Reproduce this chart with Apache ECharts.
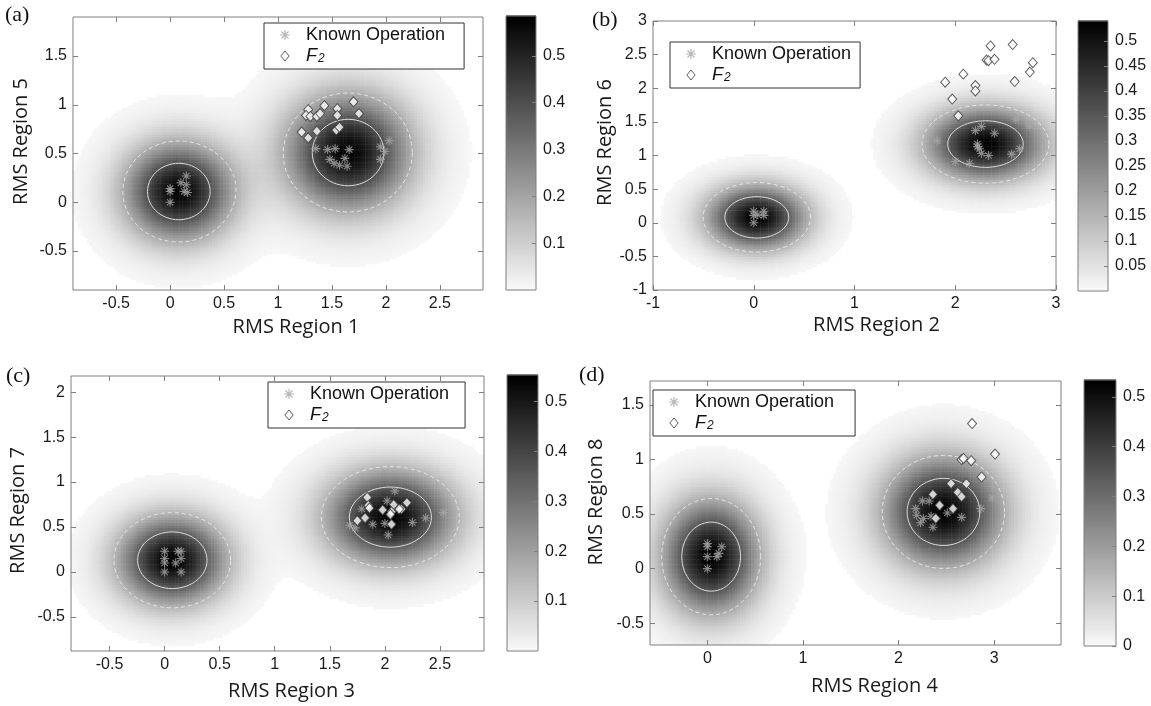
<!DOCTYPE html>
<html>
<head>
<meta charset="utf-8">
<script src="https://cdn.jsdelivr.net/npm/echarts@6/dist/echarts.min.js"></script>
<style>
  html, body { margin: 0; background: #fff; }
  #main { width: 1151px; height: 706px; }
</style>
</head>
<body>
<div id="main"></div>
<script>
// ---- panel (a): RMS Region 1 vs RMS Region 5
const knownA = [[0, 0], [0, 0.11], [0, 0.14], [0.1, 0.2], [0.15, 0.27], [0.15, 0.18], [0.13, 0.11], [0.16, 0.1],
  [1.35, 0.55], [1.46, 0.54], [1.53, 0.55], [1.48, 0.44], [1.52, 0.4], [1.57, 0.38], [1.62, 0.45], [1.66, 0.54],
  [1.64, 0.37], [1.95, 0.57], [1.99, 0.52], [1.95, 0.44], [2.03, 0.63]]
const f2A = [[1.22, 0.72], [1.28, 0.66], [1.36, 0.73], [1.28, 0.95], [1.26, 0.89], [1.3, 0.88], [1.36, 0.88],
  [1.39, 0.91], [1.43, 0.99], [1.55, 0.96], [1.55, 0.89], [1.54, 0.74], [1.57, 0.77], [1.7, 1.03], [1.75, 0.91]]
// gaussian components of the fitted density: [meanX, meanY, sdX, sdY, peak]
const gaussA = [[0.08, 0.11, 0.34, 0.34, 0.575], [1.65, 0.51, 0.39, 0.4, 0.575]]
const levelsA = [0.4, 0.18]
const cbMaxA = 0.585
const xRangeA = [-0.9, 2.9]
const yRangeA = [-0.9, 1.9]
const xTicksA = [-0.5, 0, 0.5, 1, 1.5, 2, 2.5]
const yTicksA = [-0.5, 0, 0.5, 1, 1.5]
const cbTicksA = [0.1, 0.2, 0.3, 0.4, 0.5]

// ---- panel (b): RMS Region 2 vs RMS Region 6
const knownB = [[0, 0], [0, 0.11], [0, 0.17], [0.1, 0.11], [0.1, 0.17], [0.04, 0.12],
  [1.82, 1.22], [2.0, 0.91], [2.14, 0.88], [2.2, 1.37], [2.26, 1.43], [2.39, 1.33], [2.22, 1.17], [2.24, 1.1],
  [2.26, 1.03], [2.33, 1.0], [2.56, 1.02], [2.64, 1.1], [2.6, 1.54], [2.74, 1.44], [2.22, 1.13]]
const f2B = [[1.9, 2.09], [2.08, 2.21], [1.97, 1.84], [2.03, 1.59], [2.2, 2.04], [2.2, 1.96], [2.35, 2.63],
  [2.31, 2.42], [2.33, 2.41], [2.39, 2.43], [2.57, 2.65], [2.59, 2.1], [2.74, 2.24], [2.77, 2.38]]
const gaussB = [[0.03, 0.08, 0.33, 0.32, 0.535], [2.3, 1.17, 0.39, 0.36, 0.535]]
const levelsB = [0.337, 0.145]
const cbMaxB = 0.54
const xRangeB = [-1, 3]
const yRangeB = [-1, 3]
const xTicksB = [-1, 0, 1, 2, 3]
const yTicksB = [-1, -0.5, 0, 0.5, 1, 1.5, 2, 2.5, 3]
const cbTicksB = [0.05, 0.1, 0.15, 0.2, 0.25, 0.3, 0.35, 0.4, 0.45, 0.5]

// ---- panel (c): RMS Region 3 vs RMS Region 7
const knownC = [[0, 0], [0, 0.1], [0, 0.15], [0, 0.23], [0.1, 0.1], [0.12, 0.23], [0.15, 0.23], [0.15, 0.15], [0.15, 0],
  [1.68, 0.52], [1.73, 0.49], [1.79, 0.7], [1.89, 0.53], [2.02, 0.79], [2.09, 0.9], [2.0, 0.54], [2.03, 0.41],
  [2.25, 0.55], [2.37, 0.6], [2.53, 0.66], [2.12, 0.7]]
const f2C = [[1.84, 0.83], [1.85, 0.74], [1.86, 0.71], [1.75, 0.57], [1.82, 0.6], [1.98, 0.69], [2.08, 0.75],
  [2.06, 0.67], [2.05, 0.64], [2.15, 0.7], [2.13, 0.7], [2.2, 0.77], [2.06, 0.53]]
const gaussC = [[0.07, 0.13, 0.33, 0.33, 0.548], [2.05, 0.61, 0.39, 0.35, 0.548]]
const levelsC = [0.347, 0.151]
const cbMaxC = 0.553
const xRangeC = [-0.85, 2.9]
const yRangeC = [-0.88, 2.18]
const xTicksC = [-0.5, 0, 0.5, 1, 1.5, 2, 2.5]
const yTicksC = [-0.5, 0, 0.5, 1, 1.5, 2]
const cbTicksC = [0.1, 0.2, 0.3, 0.4, 0.5]

// ---- panel (d): RMS Region 4 vs RMS Region 8
const knownD = [[0, 0], [0, 0.11], [0, 0.2], [0, 0.23], [0.1, 0.11], [0.12, 0.14], [0.15, 0.2],
  [2.18, 0.55], [2.19, 0.49], [2.25, 0.62], [2.32, 0.62], [2.23, 0.42], [2.26, 0.46], [2.36, 0.38], [2.34, 0.48],
  [2.51, 0.51], [2.66, 0.47], [2.86, 0.55], [2.98, 0.65], [3.0, 0.75]]
const f2D = [[2.77, 1.33], [2.66, 1.0], [2.68, 1.01], [2.76, 0.99], [3.01, 1.05], [2.87, 0.84], [2.55, 0.78],
  [2.71, 0.78], [2.36, 0.68], [2.62, 0.7], [2.66, 0.66], [2.43, 0.58], [2.57, 0.55], [2.39, 0.46]]
const gaussD = [[0.04, 0.11, 0.34, 0.35, 0.53], [2.47, 0.52, 0.42, 0.34, 0.53]]
const levelsD = [0.352, 0.166]
const cbMaxD = 0.534
const xRangeD = [-0.6, 3.7]
const yRangeD = [-0.7, 1.72]
const xTicksD = [0, 1, 2, 3]
const yTicksD = [-0.5, 0, 0.5, 1, 1.5]
const cbTicksD = [0, 0.1, 0.2, 0.3, 0.4, 0.5]

const panels = [
  { tag: '(a)', known: knownA, f2: f2A, gauss: gaussA, levels: levelsA, cbMax: cbMaxA, xRange: xRangeA, yRange: yRangeA,
    xTicks: xTicksA, yTicks: yTicksA, cbTicks: cbTicksA, xName: 'RMS Region 1', yName: 'RMS Region 5' },
  { tag: '(b)', known: knownB, f2: f2B, gauss: gaussB, levels: levelsB, cbMax: cbMaxB, xRange: xRangeB, yRange: yRangeB,
    xTicks: xTicksB, yTicks: yTicksB, cbTicks: cbTicksB, xName: 'RMS Region 2', yName: 'RMS Region 6' },
  { tag: '(c)', known: knownC, f2: f2C, gauss: gaussC, levels: levelsC, cbMax: cbMaxC, xRange: xRangeC, yRange: yRangeC,
    xTicks: xTicksC, yTicks: yTicksC, cbTicks: cbTicksC, xName: 'RMS Region 3', yName: 'RMS Region 7' },
  { tag: '(d)', known: knownD, f2: f2D, gauss: gaussD, levels: levelsD, cbMax: cbMaxD, xRange: xRangeD, yRange: yRangeD,
    xTicks: xTicksD, yTicks: yTicksD, cbTicks: cbTicksD, xName: 'RMS Region 4', yName: 'RMS Region 8' },
]

// pixel layout of each panel
const layout = [
  { plot: [73, 17, 410, 273], cbar: [506, 16, 30, 274], tag: [5, 4], legend: [264, 23], legendPadR: 19,
    xNameGap: 27, xNameShift: 18, yNameGap: 42, yNameShift: 12 },
  { plot: [653, 21, 403, 269], cbar: [1078, 21, 30, 270], tag: [592, 9], legend: [670, 42], legendPadR: 9,
    xNameGap: 25, xNameShift: 22, yNameGap: 38, yNameShift: 13 },
  { plot: [71, 376, 413, 275], cbar: [507, 375, 31, 276], tag: [6, 365], legend: [268, 382], legendPadR: 16,
    xNameGap: 30, xNameShift: 14, yNameGap: 43, yNameShift: 3 },
  { plot: [650, 381, 411, 264], cbar: [1084, 380, 32, 266], tag: [579, 364], legend: [653, 390], legendPadR: 21,
    xNameGap: 31, xNameShift: 19, yNameGap: 44, yNameShift: 11 },
]

const NX = 150
const NY = 105
const FLOOR = 0.008
const frame = '#7f7f7f'
const ink = '#1a1a1a'
const tickFont = 'Liberation Sans'
const asterisk = 'path://M8.8,0L11.2,0L11.2,20L8.8,20ZM0,8.8L20,8.8L20,11.2L0,11.2Z' +
  'M3.85,2.15L17.85,16.15L16.15,17.85L2.15,3.85ZM16.15,2.15L17.85,3.85L3.85,17.85L2.15,16.15Z'
const diamond = 'path://M5,0L10,6L5,12L0,6Z'

function density(g, x, y) {
  let s = 0
  for (const [mx, my, sx, sy, a] of g) {
    const dx = (x - mx) / sx
    const dy = (y - my) / sy
    s += a * Math.exp(-0.5 * (dx * dx + dy * dy))
  }
  return s
}

// trace one contour line of the density around a component's centre
function contour(g, c, level) {
  const [mx, my] = g[c]
  const pts = []
  for (let k = 0; k <= 120; k++) {
    const t = 2 * Math.PI * k / 120
    const cx = Math.cos(t)
    const cy = Math.sin(t)
    const dr = 0.005
    let r = 0
    while (r < 3 && density(g, mx + r * cx, my + r * cy) > level) r += dr
    let lo = Math.max(0, r - dr)
    let hi = r
    for (let i = 0; i < 20; i++) {
      const m = (lo + hi) / 2
      if (density(g, mx + m * cx, my + m * cy) > level) lo = m
      else hi = m
    }
    pts.push([mx + hi * cx, my + hi * cy])
  }
  return pts
}

// density on a regular grid; cells under the lowest filled level stay empty (white)
function heatData(p) {
  const out = []
  const dx = (p.xRange[1] - p.xRange[0]) / NX
  const dy = (p.yRange[1] - p.yRange[0]) / NY
  for (let i = 0; i < NX; i++) {
    for (let j = 0; j < NY; j++) {
      const v = density(p.gauss, p.xRange[0] + (i + 0.5) * dx, p.yRange[0] + (j + 0.5) * dy)
      if (v >= FLOOR) out.push([i, j, Math.min(v, p.cbMax)])
    }
  }
  return out
}

function colorbarData(max) {
  const out = []
  const n = 120
  for (let k = 0; k < n; k++) {
    const a = max * k / n
    const b = max * (k + 1) / n
    out.push([a, b, (a + b) / 2])
  }
  return out
}

const idx = n => Array.from({ length: n }, (_, i) => i)

const grids = []
const xAxes = []
const yAxes = []
const series = []
const visualMaps = []
const legends = []
const titles = []

panels.forEach((p, k) => {
  const L = layout[k]
  const rect = r => ({ left: r[0], top: r[1], width: r[2], height: r[3] })

  const g = grids.push({ ...rect(L.plot), show: true, z: 10, backgroundColor: 'transparent',
    borderColor: frame, borderWidth: 1, outerBoundsMode: 'none' }) - 1
  const gh = grids.push({ ...rect(L.plot), show: false, outerBoundsMode: 'none' }) - 1
  const gc = grids.push({ ...rect(L.cbar), show: true, z: 10, backgroundColor: 'transparent',
    borderColor: frame, borderWidth: 1, outerBoundsMode: 'none' }) - 1

  const tickStyle = ticks => ({ inside: true, length: 5, lineStyle: { color: frame }, customValues: ticks })
  const labelStyle = (ticks, margin) => ({ customValues: ticks, margin, fontSize: 16, fontFamily: tickFont, color: ink })
  const noLine = { show: false, onZero: false }

  const xb = xAxes.push({
    gridIndex: g, type: 'value', min: p.xRange[0], max: p.xRange[1], position: 'bottom', z: 11,
    axisLine: noLine, splitLine: { show: false },
    axisTick: tickStyle(p.xTicks), axisLabel: labelStyle(p.xTicks, 6),
    name: p.xName, nameLocation: 'middle', nameGap: L.xNameGap,
    nameTextStyle: { fontFamily: 'Open Sans', fontSize: 20, color: ink, padding: [0, 0, 0, 2 * L.xNameShift] },
  }) - 1
  xAxes.push({
    gridIndex: g, type: 'value', min: p.xRange[0], max: p.xRange[1], position: 'top', z: 11,
    axisLine: noLine, splitLine: { show: false },
    axisTick: tickStyle(p.xTicks), axisLabel: { show: false },
  })
  const yl = yAxes.push({
    gridIndex: g, type: 'value', min: p.yRange[0], max: p.yRange[1], position: 'left', z: 11,
    axisLine: noLine, splitLine: { show: false },
    axisTick: tickStyle(p.yTicks), axisLabel: labelStyle(p.yTicks, 6),
    name: p.yName, nameLocation: 'middle', nameGap: L.yNameGap,
    nameTextStyle: { fontFamily: 'Open Sans', fontSize: 20, color: ink, padding: [0, 0, 0, 2 * L.yNameShift] },
  }) - 1
  yAxes.push({
    gridIndex: g, type: 'value', min: p.yRange[0], max: p.yRange[1], position: 'right', z: 11,
    axisLine: noLine, splitLine: { show: false },
    axisTick: tickStyle(p.yTicks), axisLabel: { show: false },
  })

  const xh = xAxes.push({ gridIndex: gh, type: 'category', data: idx(NX), show: false }) - 1
  const yh = yAxes.push({ gridIndex: gh, type: 'category', data: idx(NY), show: false }) - 1

  const xc = xAxes.push({ gridIndex: gc, type: 'value', min: 0, max: 1, show: false }) - 1
  const yc = yAxes.push({
    gridIndex: gc, type: 'value', min: 0, max: p.cbMax, position: 'right', z: 11,
    axisLine: noLine, splitLine: { show: false },
    axisTick: { inside: true, length: 4, lineStyle: { color: frame }, customValues: p.cbTicks },
    axisLabel: labelStyle(p.cbTicks, 7),
  }) - 1

  const hs = series.push({
    type: 'heatmap', xAxisIndex: xh, yAxisIndex: yh, data: heatData(p),
    progressive: 0, silent: true, z: 1, emphasis: { disabled: true },
  }) - 1
  const cs = series.push({
    type: 'custom', xAxisIndex: xc, yAxisIndex: yc, data: colorbarData(p.cbMax), silent: true, z: 1,
    renderItem(params, api) {
      const a = api.coord([0, api.value(0)])
      const b = api.coord([1, api.value(1)])
      return {
        type: 'rect',
        shape: { x: a[0], y: b[1] - 0.5, width: b[0] - a[0], height: a[1] - b[1] + 1 },
        style: { fill: api.visual('color') },
      }
    },
  }) - 1

  visualMaps.push({
    type: 'continuous', show: false, seriesIndex: [hs, cs], dimension: 2,
    min: 0, max: p.cbMax,
    inRange: { color: ['#fafafa', '#000000'] },
  })

  p.gauss.forEach((_, c) => {
    p.levels.forEach((lev, li) => {
      series.push({
        type: 'line', xAxisIndex: xb, yAxisIndex: yl, data: contour(p.gauss, c, lev),
        showSymbol: false, symbol: 'none', silent: true, z: 3, clip: true,
        lineStyle: li === 0
          ? { color: '#dcdcdc', width: 1, type: 'solid' }
          : { color: '#e6e6e6', width: 1, type: [4, 3] },
      })
    })
  })

  series.push({
    type: 'scatter', name: 'Known Operation', xAxisIndex: xb, yAxisIndex: yl, data: p.known,
    symbol: asterisk, symbolSize: 9, z: 4, itemStyle: { color: '#a6a6a6' },
  })
  series.push({
    type: 'scatter', name: 'F2', xAxisIndex: xb, yAxisIndex: yl, data: p.f2,
    symbol: 'diamond', symbolSize: [9, 10], z: 5,
    itemStyle: { color: '#ffffff', borderColor: '#3a3a3a', borderWidth: 1 },
  })

  legends.push({
    left: L.legend[0], top: L.legend[1], orient: 'vertical', align: 'left', z: 20,
    padding: [3, L.legendPadR, 4, 16], itemGap: 2, itemWidth: 32, itemHeight: 10,
    backgroundColor: '#ffffff', borderColor: '#333333', borderWidth: 1, borderRadius: 0,
    selectedMode: false,
    data: [
      { name: 'Known Operation', icon: asterisk, itemStyle: { color: '#a6a6a6' } },
      { name: 'F2', icon: diamond, itemStyle: { color: '#ffffff', borderColor: '#333333', borderWidth: 1 } },
    ],
    formatter: name => (name === 'F2' ? '{i|F}{s|2}' : name),
    textStyle: {
      fontFamily: tickFont, fontSize: 18, color: '#111', lineHeight: 18,
      rich: {
        i: { fontFamily: tickFont, fontSize: 18, fontStyle: 'italic', color: '#111', lineHeight: 18 },
        s: { fontFamily: tickFont, fontSize: 12, fontStyle: 'italic', color: '#111', lineHeight: 18,
          verticalAlign: 'bottom', padding: [7, 0, 0, 1] },
      },
    },
  })

  titles.push({
    text: p.tag, left: L.tag[0], top: L.tag[1], padding: 0,
    textStyle: { fontFamily: 'Liberation Serif', fontSize: 22, fontWeight: 'normal', color: '#111' },
  })
})

const chart = echarts.init(document.getElementById('main'))
chart.setOption({
  animation: false,
  backgroundColor: '#ffffff',
  title: titles,
  legend: legends,
  grid: grids,
  xAxis: xAxes,
  yAxis: yAxes,
  visualMap: visualMaps,
  series,
})
</script>
</body>
</html>
